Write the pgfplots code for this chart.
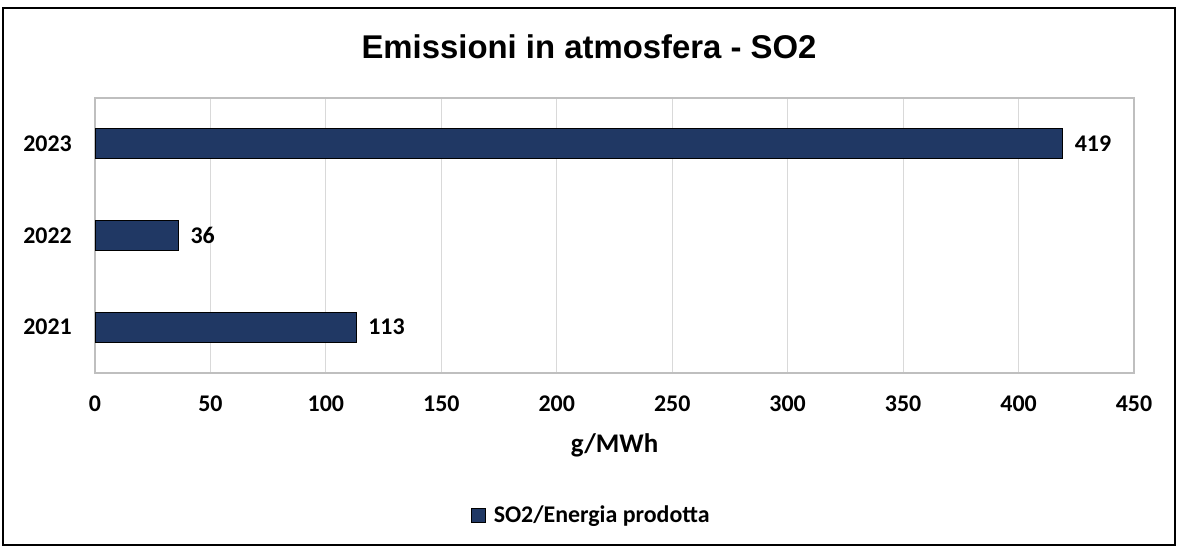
\documentclass[border=0pt]{standalone}
\usepackage{pgfplots}
\pgfplotsset{compat=1.18}
\usepackage{fontspec}
\setmainfont{Carlito}
\newfontfamily\arialfont{Liberation Sans}
\definecolor{barblue}{RGB}{32,56,100}
\definecolor{gridgray}{RGB}{217,217,217}
\definecolor{framegray}{RGB}{191,191,191}
\begin{document}
\begin{tikzpicture}[x=1bp,y=1bp]
\path[use as bounding box] (0,0) rectangle (1178,-547);
\draw[black, line width=1.2bp] (3,-8) rectangle (1175,-545);
\node[font=\arialfont\bfseries\fontsize{33}{40}\selectfont] at (589,-47) {Emissioni in atmosfera - SO2};
\begin{axis}[
  at={(95bp,-373bp)}, anchor=south west,
  scale only axis, width=1039bp, height=275bp,
  xbar, bar width=30bp,
  xmin=0, xmax=450, ymin=-0.5, ymax=2.5,
  xtick={0,50,...,450}, ytick={0,1,2}, yticklabels={2021,2022,2023},
  /pgf/number format/assume math mode=true,
  axis line style={framegray, line width=1.5bp},
  major tick length=0pt,
  xmajorgrids, grid style={gridgray, line width=1.2bp},
  ticklabel style={font=\bfseries\fontsize{24}{28}\selectfont, inner sep=0pt},
  xticklabel style={anchor=center, yshift=-31bp},
  yticklabel style={anchor=east, xshift=-23bp},
  xlabel={g/MWh},
  xlabel style={font=\bfseries\fontsize{27}{31}\selectfont, inner sep=0pt, at={(axis description cs:0.5,0)}, anchor=center, yshift=-72bp},
  nodes near coords,
  nodes near coords style={font=\bfseries\fontsize{24}{28}\selectfont, anchor=west, inner sep=0pt, xshift=12bp, black},
  legend style={at={(axis description cs:0.4779,-0.5164)}, anchor=center, draw=none, fill=none,
    font=\bfseries\fontsize{24}{28}\selectfont, inner sep=0pt},
  legend image code/.code={\path[draw=none, fill=none] (0bp,0bp) rectangle (20bp,1bp); \draw[fill=barblue, draw=black, line width=0.6bp] (0bp,-7bp) rectangle (14bp,7bp);},
  legend cell align=left,
]
\addplot[fill=barblue, draw=black, line width=0.8bp] coordinates {(113,0) (36,1) (419,2)};
\legend{SO2/Energia prodotta}
\end{axis}
\end{tikzpicture}
\end{document}
